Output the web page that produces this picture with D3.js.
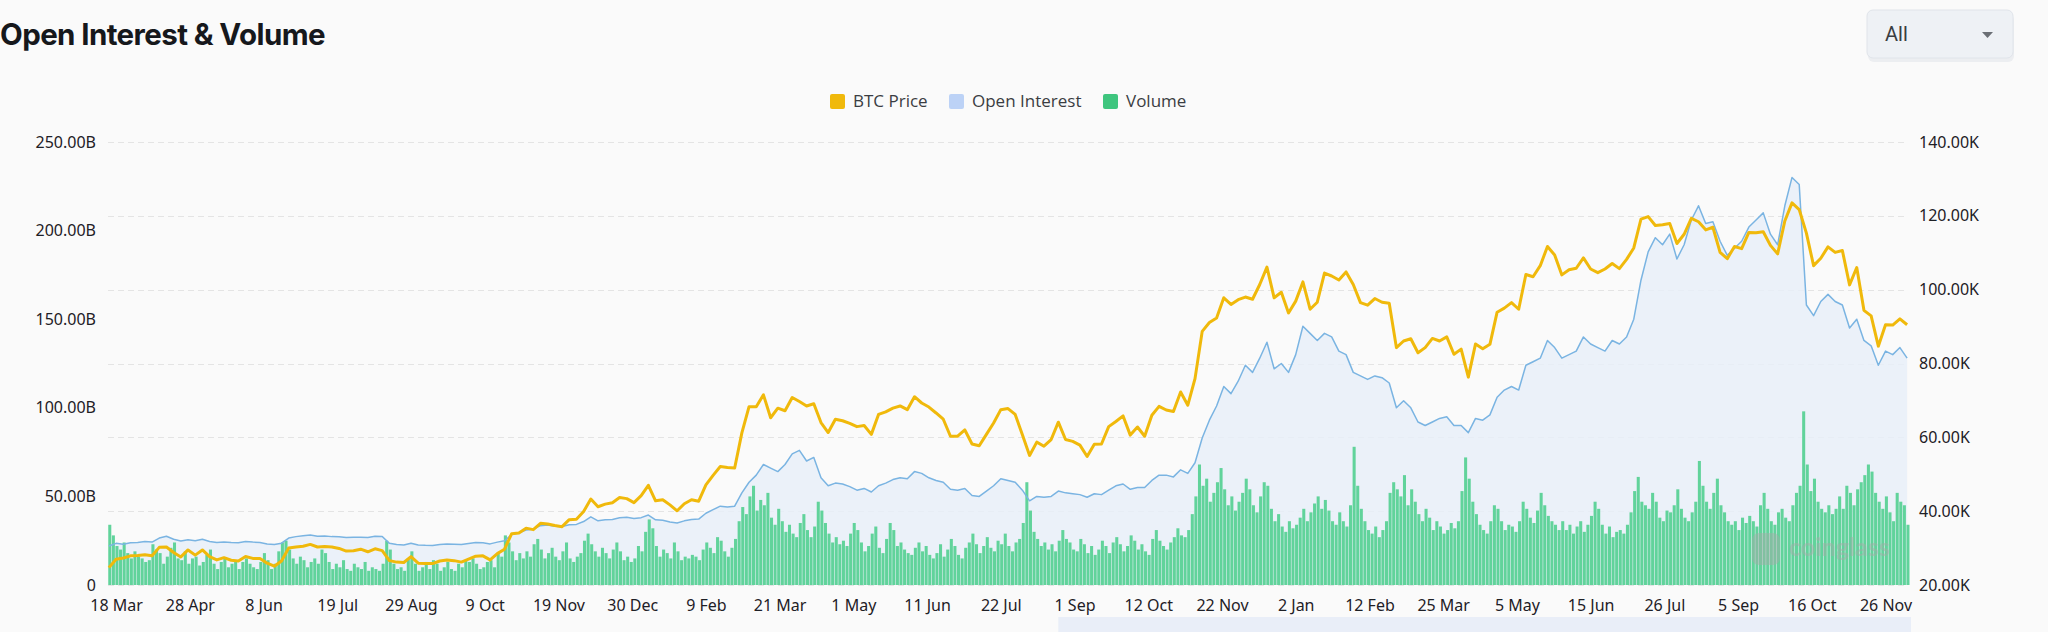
<!DOCTYPE html>
<html><head><meta charset="utf-8">
<script src="https://cdn.jsdelivr.net/npm/d3@7/dist/d3.min.js"></script>
<style>
html,body{margin:0;padding:0;background:#fafafa;}
svg{display:block;}
</style></head>
<body><svg id="chart" width="2048" height="632"></svg>
<script>
// ---------------- DATA ----------------
const titleText = "Open Interest & Volume";
const seriesNames = ["BTC Price", "Open Interest", "Volume"];
const lineStartDate = "2023-03-14";   // price / OI sampled every 4 days
const lineStepDays = 4;
const volStartDate = "2023-03-14";    // volume sampled every 2 days
const volStepDays = 2;
const xTickStart = "2023-03-18";      // x labels every 41 days
const xTickStepDays = 41;
const xTickCount = 25;
const leftTickValues = [0, 50, 100, 150, 200, 250];       // billions
const rightTickValues = [20, 40, 60, 80, 100, 120, 140];  // thousands

// BTC price (K USD)
const priceK = [
 24.7,27.0,27.3,27.9,28.0,
 28.2,27.9,30.2,30.3,28.8,27.6,29.5,
 28.1,29.5,27.7,26.8,27.4,26.7,26.5,27.7,
 27.2,27.2,25.9,25.1,26.5,30.0,30.3,30.5,
 31.0,30.3,30.4,30.3,29.9,29.2,29.3,
 29.7,29.0,29.8,29.3,26.6,26.2,26.1,27.7,
 25.9,25.8,25.8,26.5,26.8,26.6,26.2,27.0,
 27.8,27.9,26.8,28.5,29.7,33.9,34.1,
 35.4,35.0,36.7,36.5,36.1,35.8,37.7,37.8,
 39.9,43.3,41.2,41.9,42.3,43.7,43.4,42.3,
 44.2,47.0,42.8,43.1,41.7,40.1,42.0,
 43.1,42.7,47.1,49.7,52.1,51.8,51.7,61.2,
 68.3,68.3,71.5,65.3,67.9,67.2,70.8,
 69.7,68.5,69.1,64.0,61.3,64.9,64.5,63.8,
 62.9,63.2,60.8,66.2,66.9,67.9,68.5,67.5,
 71.0,69.3,68.2,66.6,64.9,60.3,60.3,
 62.0,58.2,57.7,60.8,63.9,67.5,67.8,66.2,
 60.7,55.1,58.7,57.6,59.4,64.1,59.4,58.9,
 57.9,54.8,58.1,58.2,62.9,64.3,65.8,
 60.6,62.8,60.3,66.0,68.4,67.4,67.0,72.3,
 68.7,75.9,88.7,91.1,92.3,97.8,96.0,
 97.3,98.0,97.4,101.4,106.1,97.8,99.3,93.7,
 96.9,102.1,94.7,96.6,104.5,103.7,102.6,104.8,
 101.4,96.5,95.8,97.6,96.6,96.3,84.3,
 86.1,86.7,82.9,84.3,86.8,86.1,87.2,82.5,
 83.9,76.3,85.3,84.0,85.2,93.9,95.0,
 96.5,94.7,104.1,103.5,106.5,111.7,109.4,104.0,
 105.4,105.8,108.6,105.6,104.6,105.6,107.1,
 105.7,108.2,111.3,119.1,119.8,117.4,117.6,117.9,
 112.5,115.0,119.3,118.4,116.2,116.9,110.1,108.4,
 111.7,111.1,115.5,115.4,115.7,112.0,109.7,
 118.6,123.5,121.7,115.3,106.5,108.5,111.6,110.1,
 110.6,101.3,106.0,94.4,92.9,84.7,90.5,90.4,
 92.1,90.5
];

// Open interest (B USD)
const openInterestB = [
 22.0,23.5,23.0,23.8,24.0,
 24.5,24.2,26.5,27.5,25.8,24.8,25.5,
 25.0,25.8,24.6,24.0,24.3,24.0,23.8,24.5,
 24.2,24.0,23.2,22.8,23.6,26.5,27.3,27.8,
 28.2,27.5,27.6,27.3,27.2,26.8,26.9,
 27.0,26.8,27.5,27.4,23.5,22.8,22.6,23.6,
 22.6,22.4,22.3,22.9,23.2,23.0,22.8,23.4,
 24.0,23.8,23.2,24.2,25.0,28.5,29.5,
 31.0,31.5,33.5,33.8,33.2,33.0,34.0,34.2,
 35.8,38.5,36.2,36.8,37.0,38.0,38.2,37.5,
 38.0,39.5,36.8,36.5,35.5,35.0,36.2,
 37.0,37.2,40.5,42.5,44.5,44.0,44.5,52.0,
 58.0,62.0,68.0,66.0,64.0,68.0,74.0,
 76.0,70.0,72.0,60.5,56.0,57.5,57.0,55.5,
 53.5,54.5,52.5,56.0,57.5,59.5,60.5,60.0,
 64.0,63.0,60.5,59.0,58.0,54.0,53.5,
 54.5,50.5,50.0,53.0,56.0,60.0,59.0,58.0,
 53.5,47.5,50.0,49.5,50.0,53.0,52.0,51.5,
 51.0,49.5,51.5,51.0,53.5,56.0,57.0,
 54.0,55.0,55.0,59.0,62.0,62.0,61.0,65.0,
 63.0,69.0,83.0,93.0,101.0,112.0,108.0,
 115.0,124.0,120.0,128.0,137.0,122.0,125.0,120.0,
 130.0,146.0,142.0,138.0,142.0,140.0,132.0,130.0,
 120.0,118.0,116.0,118.0,117.0,114.0,100.0,
 104.0,100.0,92.0,90.0,92.0,94.0,95.0,90.0,
 90.0,86.0,94.0,93.0,96.0,106.0,110.0,
 112.0,110.0,124.0,126.0,128.0,138.0,134.0,128.0,
 130.0,132.0,140.0,136.0,134.0,132.0,138.0,
 136.0,140.0,150.0,172.0,188.0,196.0,192.0,198.0,
 184.0,192.0,206.0,214.0,204.0,205.0,194.0,186.0,
 190.0,194.0,202.0,206.0,210.0,198.0,192.0,
 214.0,230.0,226.0,158.0,152.0,160.0,164.0,160.0,
 158.0,145.0,150.0,138.0,135.0,124.0,132.0,130.0,
 134.0,128.0
];

// Volume (B USD)
const volumeB = [
 34,28,22,20,24,18,15,19,16,
 15,13,14,23,20,18,12,16,21,24,15,14,19,12,15,
 16,11,13,17,20,12,9,13,15,10,12,14,9,13,15,12,
 10,9,13,18,14,9,12,19,24,25,20,15,12,16,14,
 10,13,15,12,20,18,13,9,12,10,14,9,8,12,10,
 9,13,8,10,9,8,12,25,20,12,9,10,8,15,19,12,
 8,10,13,9,14,12,8,10,13,9,8,12,10,14,13,
 15,12,9,10,13,14,10,18,16,28,24,19,14,18,15,
 19,16,23,26,20,15,18,21,16,14,19,24,15,13,16,
 18,25,29,23,19,16,21,18,15,20,24,19,14,16,13,15,
 22,19,30,37,32,22,16,20,18,15,24,19,14,16,15,
 17,16,14,20,24,21,18,27,25,19,16,21,26,36,44,
 40,50,56,42,48,45,52,38,34,43,36,30,34,29,27,
 35,40,31,27,33,47,42,35,29,24,27,23,25,22,29,
 35,31,24,19,22,29,33,21,18,26,35,31,22,24,20,18,
 17,21,24,19,22,17,15,18,23,16,20,26,22,17,15,
 21,24,29,23,18,22,27,21,19,25,23,29,22,19,24,
 26,35,58,42,30,26,22,24,20,23,19,25,31,26,24,20,
 19,26,23,18,22,17,20,25,22,18,24,27,23,19,22,
 28,25,20,23,19,17,26,31,25,22,20,24,27,32,28,
 27,31,40,50,68,56,60,47,52,58,66,54,45,50,42,
 47,52,60,54,45,41,50,58,56,43,36,40,33,30,36,32,
 34,38,43,36,41,46,50,43,48,42,36,34,41,36,33,
 45,78,56,43,36,31,29,33,27,31,36,52,58,54,
 50,62,45,54,47,40,36,43,38,31,36,33,29,31,35,32,
 36,53,72,60,47,40,34,31,29,36,45,43,36,31,34,
 33,30,36,47,43,38,35,42,52,45,39,36,34,31,36,
 31,34,29,33,36,30,34,39,47,43,34,29,33,27,30,
 31,29,34,41,53,61,47,45,43,52,47,38,36,42,41,45,
 54,43,38,36,41,47,70,56,47,43,52,60,45,41,36,
 34,36,31,38,35,39,36,33,45,52,43,36,34,41,43,
 38,36,45,52,56,98,68,53,60,47,43,41,45,40,43,50,
 43,56,52,45,54,58,62,68,64,52,47,43,50,41,36,
 52,47,45,34
];

// ---------------- CHART ----------------
const svg = d3.select("#chart");
const W = 2048, H = 632;
const plot = {left: 108, right: 1908, top: 142, bottom: 585};
const colors = {price: "#f0b90b", oiLine: "#7ab4e2", oiFill: "#e7eef8",
                vol: "#61d39b", volLegend: "#3ec57e", oiLegend: "#bcd2f6",
                grid: "#e4e4e4", text: "#1e2026"};
const day = 864e5;
const parse = d3.utcParse("%Y-%m-%d");
const lineStart = parse(lineStartDate);
const volStart = parse(volStartDate);

const priceData = priceK.map((v, i) => ({d: d3.utcDay.offset(lineStart, i * lineStepDays), v}));
const oiData = openInterestB.map((v, i) => ({d: d3.utcDay.offset(lineStart, i * lineStepDays), v}));
const volData = volumeB.map((v, i) => ({d: d3.utcDay.offset(volStart, i * volStepDays), v}));

const lastDay = d3.max([priceData[priceData.length-1].d, volData[volData.length-1].d]);
const x = d3.scaleUtc()
  .domain([new Date(+lineStart - day/2), new Date(+lastDay + day/2)])
  .range([plot.left, plot.right]);
const yL = d3.scaleLinear().domain([0, 250]).range([plot.bottom, plot.top]);
const yR = d3.scaleLinear().domain([20, 140]).range([plot.bottom, plot.top]);

svg.append("rect").attr("width", W).attr("height", H).attr("fill", "#fafafa");

// Title
svg.append("text").attr("x", 0).attr("y", 45)
  .attr("font-family", "Inter, 'Noto Sans', sans-serif").attr("font-weight", 700)
  .attr("font-size", 29.5).attr("letter-spacing", -0.6).attr("fill", "#16181c")
  .text(titleText);

// Dropdown
const dd = svg.append("g");
dd.append("rect").attr("x", 1868).attr("y", 12).attr("width", 146).attr("height", 48)
  .attr("rx", 6).attr("fill", "#e5e8ec").attr("opacity", 0.7).attr("transform", "translate(0,2)");
dd.append("rect").attr("x", 1867).attr("y", 10).attr("width", 146).attr("height", 48)
  .attr("rx", 6).attr("fill", "#eef1f5").attr("stroke", "#e0e4ea");
dd.append("text").attr("x", 1885).attr("y", 41).attr("font-family", "Roboto, sans-serif")
  .attr("font-size", 20).attr("fill", "#3a3d42").text("All");
dd.append("path").attr("d", "M1982,32 L1993,32 L1987.5,38 Z").attr("fill", "#6b6f75");

// Legend
const legendItems = [
  {name: seriesNames[0], color: colors.price, x: 830},
  {name: seriesNames[1], color: colors.oiLegend, x: 949},
  {name: seriesNames[2], color: colors.volLegend, x: 1103}
];
const lg = svg.append("g");
legendItems.forEach(it => {
  lg.append("rect").attr("x", it.x).attr("y", 94).attr("width", 15).attr("height", 15)
    .attr("rx", 2).attr("fill", it.color);
  lg.append("text").attr("x", it.x + 23).attr("y", 107)
    .attr("font-family", "'Open Sans', sans-serif").attr("font-size", 17)
    .attr("fill", "#3a3d42").text(it.name);
});

// Grid (right axis ticks)
svg.append("g").selectAll("line").data(rightTickValues).join("line")
  .attr("x1", plot.left).attr("x2", plot.right)
  .attr("y1", d => Math.round(yR(d)) + 0.5).attr("y2", d => Math.round(yR(d)) + 0.5)
  .attr("stroke", colors.grid).attr("stroke-dasharray", "6,4");

// OI area
svg.append("path").datum(oiData)
  .attr("d", d3.area().x(d => x(d.d)).y0(yL(0)).y1(d => yL(d.v)))
  .attr("fill", colors.oiFill).attr("opacity", 0.85);

// Volume bars
const bw = x(new Date(+volStart + volStepDays * day)) - x(volStart);
svg.append("g").selectAll("rect").data(volData).join("rect")
  .attr("x", d => x(new Date(+d.d - day/2)) + 0.25)
  .attr("width", Math.max(0.5, bw - 0.55))
  .attr("y", d => yL(d.v))
  .attr("height", d => yL(0) - yL(d.v))
  .attr("fill", colors.vol);

// Watermark
const wm = svg.append("g").attr("opacity", 0.45);
wm.append("rect").attr("x", 1752).attr("y", 533).attr("width", 28).attr("height", 32).attr("rx", 7).attr("fill", "#a9a9a9");
wm.append("text").attr("x", 1789).attr("y", 556).attr("font-family", "Lato, sans-serif")
  .attr("font-weight", 700).attr("font-size", 25).attr("fill", "#a9a9a9").text("coinglass");

// OI line
svg.append("path").datum(oiData)
  .attr("d", d3.line().x(d => x(d.d)).y(d => yL(d.v)))
  .attr("fill", "none").attr("stroke", colors.oiLine).attr("stroke-width", 1.5)
  .attr("stroke-linejoin", "round");

// Price line
svg.append("path").datum(priceData)
  .attr("d", d3.line().x(d => x(d.d)).y(d => yR(d.v)))
  .attr("fill", "none").attr("stroke", colors.price).attr("stroke-width", 3)
  .attr("stroke-linejoin", "round");

// Axes
const fmtB = v => v === 0 ? "0" : d3.format(".2f")(v) + "B";
const fmtK = v => d3.format(".2f")(v) + "K";
const axisFont = "'Noto Sans', 'Open Sans', sans-serif";

const gL = svg.append("g").attr("transform", `translate(${plot.left},0)`)
  .call(d3.axisLeft(yL).tickValues(leftTickValues).tickFormat(fmtB).tickSize(0).tickPadding(12));
const gR = svg.append("g").attr("transform", `translate(${plot.right},0)`)
  .call(d3.axisRight(yR).tickValues(rightTickValues).tickFormat(fmtK).tickSize(0).tickPadding(11));
const tickDates = d3.range(xTickCount).map(i => d3.utcDay.offset(parse(xTickStart), i * xTickStepDays));
const gX = svg.append("g").attr("transform", `translate(0,${plot.bottom})`)
  .call(d3.axisBottom(x).tickValues(tickDates).tickFormat(d3.utcFormat("%-d %b")).tickSize(0).tickPadding(15));
[gL, gR, gX].forEach(g => {
  g.select(".domain").remove();
  g.selectAll("text").attr("font-family", axisFont).attr("font-size", 16).attr("fill", colors.text);
});

// data zoom strip at bottom
const stripStart = x(parse("2024-08-23"));
svg.append("rect").attr("x", stripStart).attr("y", 617)
  .attr("width", plot.right + 3 - stripStart).attr("height", 15).attr("fill", "#e9eef8");
</script>
</body></html>
